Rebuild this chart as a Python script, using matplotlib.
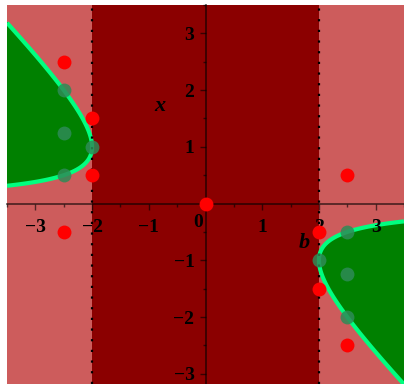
import numpy as np
import matplotlib.pyplot as plt
from matplotlib.ticker import MultipleLocator

# region where x^2 + b*x + 1 < 0, plus sample points around its boundary
quad_a, quad_c = 1.0, 1.0
b_crit = [-2.0, 2.0]

red_b = [-2.5, -2.0, -2.0, -2.5, 0.0, 2.0, 2.0, 2.5, 2.5]
red_x = [2.5, 1.5, 0.5, -0.5, 0.0, -0.5, -1.5, -2.5, 0.5]
green_b = [-2.5, -2.5, -2.5, -2.0, 2.5, 2.5, 2.5, 2.0]
green_x = [2.0, 1.25, 0.5, 1.0, -0.5, -1.25, -2.0, -1.0]

x_ticks = [-3, -2, -1, 1, 2, 3]
y_ticks = [-3, -2, -1, 1, 2, 3]

font = "Liberation Serif"

fig = plt.figure(figsize=(4.04, 3.84), dpi=100)
ax = fig.add_axes([7 / 404, 0, 397 / 404, 379 / 384])
ax.set_xlim(-3.5, 3.5)
ax.set_ylim(-3.18, 3.5)

# background bands: outside / inside |b| < 2
ax.axvspan(-3.5, b_crit[0], color="indianred", lw=0, zorder=0)
ax.axvspan(b_crit[1], 3.5, color="indianred", lw=0, zorder=0)
ax.axvspan(b_crit[0], b_crit[1], color="darkred", lw=0, zorder=0)

bb, xx = np.meshgrid(np.linspace(-3.5, 3.5, 801), np.linspace(-3.5, 3.5, 801))
ff = quad_a * xx**2 + bb * xx + quad_c
ax.contourf(bb, xx, ff, levels=[ff.min() - 1, 0], colors=["green"], zorder=1)
ax.contour(bb, xx, ff, levels=[0], colors=["springgreen"], linewidths=3, zorder=1.5)

for bc in b_crit:
    ax.axvline(bc, color="black", lw=1.6, ls=(0, (1, 3.8)), zorder=1.8)

ax.plot(red_b, red_x, "o", color="red", ms=10, mec="none", zorder=4)
ax.plot(green_b, green_x, "o", color="seagreen", alpha=0.85, ms=10, mec="none", zorder=4)

# axes through the origin
for side in ["top", "right"]:
    ax.spines[side].set_visible(False)
for side in ["left", "bottom"]:
    ax.spines[side].set_position(("data", 0))
    ax.spines[side].set_color((0, 0, 0, 0.6))
    ax.spines[side].set_linewidth(1.3)
    ax.spines[side].set_zorder(3)

ax.set_xticks(x_ticks)
ax.set_yticks(y_ticks)
ax.set_xticklabels([f"\u2212{abs(t)}" if t < 0 else str(t) for t in x_ticks])
ax.set_yticklabels([f"\u2212{abs(t)}" if t < 0 else str(t) for t in y_ticks])
ax.xaxis.set_minor_locator(MultipleLocator(0.5))
ax.yaxis.set_minor_locator(MultipleLocator(0.5))
ax.tick_params(which="major", length=4, width=1, color=(0, 0, 0, 0.6), pad=7)
ax.tick_params(which="minor", length=2.5, width=1, color=(0, 0, 0, 0.6))
ax.tick_params(axis="y", which="major", pad=4)
for lab in ax.get_xticklabels() + ax.get_yticklabels():
    lab.set_fontfamily(font)
    lab.set_fontsize(14)
    lab.set_fontweight("bold")

ax.text(-0.13, -0.33, "0", family=font, fontsize=14, fontweight="bold",
        ha="center", va="center")
ax.text(-0.8, 1.72, "x", family=font, fontsize=16, fontweight="bold",
        style="italic", ha="center", va="center")
ax.text(1.75, -0.7, "b", family=font, fontsize=16, fontweight="bold",
        style="italic", ha="center", va="center")

fig.savefig("out.png", dpi=100)
